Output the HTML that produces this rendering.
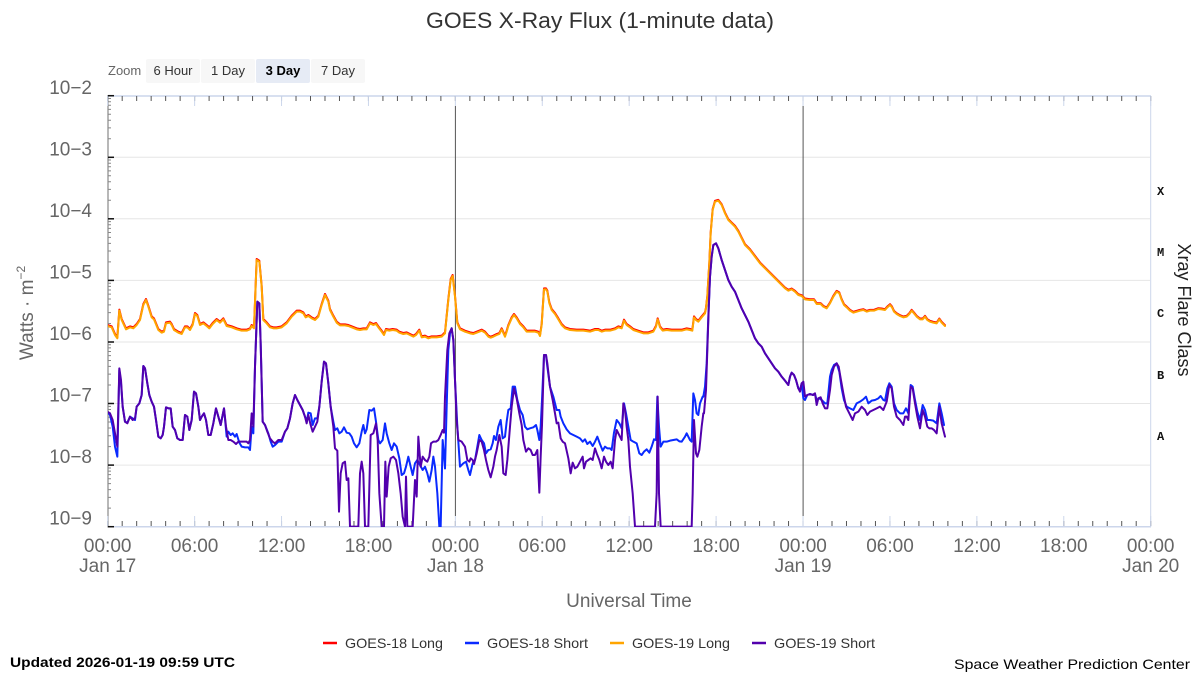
<!DOCTYPE html>
<html>
<head>
<meta charset="utf-8">
<style>
  html, body { margin: 0; padding: 0; background: #fff; }
  svg { display: block; }
  text { font-family: "Liberation Sans", Arial, sans-serif; }
</style>
</head>
<body>
<svg width="1200" height="675" viewBox="0 0 1200 675" xmlns="http://www.w3.org/2000/svg">
  <defs>
    <pattern id="hrTop" x="107.2" y="96" width="14.486" height="5" patternUnits="userSpaceOnUse">
      <rect x="0" y="0" width="1" height="5" fill="#555"/>
    </pattern>
    <pattern id="majTop" x="107.2" y="96" width="86.916" height="10" patternUnits="userSpaceOnUse">
      <rect x="0" y="0" width="1" height="10" fill="#ccd6eb"/>
    </pattern>
    <pattern id="hrBot" x="107.2" y="521" width="14.486" height="5" patternUnits="userSpaceOnUse">
      <rect x="0" y="0" width="1" height="5" fill="#555"/>
    </pattern>
    <pattern id="majBot" x="107.2" y="516" width="86.916" height="10" patternUnits="userSpaceOnUse">
      <rect x="0" y="0" width="1" height="10" fill="#ccd6eb"/>
    </pattern>
    <path id="dec" d="M108,-18.53h3M108,-29.38h3M108,-37.07h3M108,-43.04h3M108,-47.91h3M108,-52.03h3M108,-55.60h3M108,-58.75h3" stroke="#888" stroke-width="1" fill="none"/>
    <clipPath id="plotClip"><rect x="108" y="96" width="1043" height="431"/></clipPath>

    <polyline id="o4" transform="translate(100,240) scale(0.333333)" vector-effect="non-scaling-stroke" points="22,258 35,262 45,285 52,295 58,212 65,240 78,268 90,262 100,265 110,255 120,240 130,195 138,180 145,200 155,232 162,238 175,270 185,278 192,275 198,250 210,248 215,255 222,270 235,278 245,282 255,262 262,262 270,270 278,255 285,222 292,228 300,255 310,250 320,258 328,265 338,252 350,240 360,248 370,238 380,258 395,262 410,268 425,272 440,272 450,268 455,258 462,265 470,60 478,65 485,140 490,240 500,250 510,262 520,265 530,265 545,262 560,250 575,230 590,215 600,215 610,220 617,232 625,228 635,235 645,240 655,230 665,195 675,165 685,185 690,210 700,230 710,248 720,256 735,256 745,258 755,262 770,268 780,270 790,268 800,268 810,250 820,255 828,252 835,262 845,275 852,285 858,270 868,272 878,270 890,272 898,278 910,282 920,280 930,285 940,290 948,285 958,272 965,292 975,290 985,295 995,292 1010,292 1025,290 1035,280"/>
    <polyline id="o5" transform="translate(440,240) scale(0.333333)" vector-effect="non-scaling-stroke" points="15,280 25,180 32,120 38,108 45,170 52,250 60,268 75,275 90,280 100,282 110,278 125,272 135,278 145,290 152,293 160,290 170,285 178,282 185,268 195,290 200,275 205,258 215,235 222,225 230,235 240,252 250,262 260,275 270,275 285,275 295,278 300,288 305,255 312,148 318,148 322,155 328,190 335,210 345,222 355,238 365,255 375,265 390,270 410,272 430,272 450,275 465,270 475,270 485,275 495,272 510,272 525,268 535,262 545,265 552,242 560,255 570,262 580,270 595,275 610,280 625,280 640,275 648,260 653,238 660,262 668,272 680,270 695,272 710,272 725,272 740,268 750,270 757,272 762,232 768,240 775,245 785,232 795,220"/>
    <polyline id="o6" transform="translate(690,190) scale(0.333333)" vector-effect="non-scaling-stroke" points="45,370 48,355 52,320 58,220 62,130 68,60 75,35 85,32 95,45 105,70 115,90 125,100 135,110 145,125 155,145 165,165 180,180 195,200 210,220 225,235 240,250 255,265 270,280 285,295 295,302 305,298 315,305 325,315 335,318 345,328 360,330 372,330 380,342 392,342 400,350 410,355 420,340 430,320 440,305 448,310 455,330 462,345 470,352 480,362 490,368 500,365 510,362 520,360 530,365 540,362 552,362 565,357 575,358 585,360 592,352 600,345 606,352 612,365 620,372 630,378 640,382 650,380 658,372 665,362 672,370 680,380 690,388 698,388 705,380 712,390 720,395 730,398 740,400 748,388 755,398 765,408"/>
  </defs>

  <text x="600" y="28" text-anchor="middle" font-size="22" fill="#333" textLength="348" lengthAdjust="spacingAndGlyphs">GOES X-Ray Flux (1-minute data)</text>

  <text x="108" y="75" font-size="13" fill="#666">Zoom</text>
  <rect x="146" y="59" width="54" height="24" rx="2" fill="#f7f7f7"/>
  <rect x="201" y="59" width="54" height="24" rx="2" fill="#f7f7f7"/>
  <rect x="256" y="59" width="54" height="24" rx="2" fill="#e6ebf5"/>
  <rect x="311" y="59" width="54" height="24" rx="2" fill="#f7f7f7"/>
  <text x="173" y="75" text-anchor="middle" font-size="13" fill="#333">6 Hour</text>
  <text x="228" y="75" text-anchor="middle" font-size="13" fill="#333">1 Day</text>
  <text x="283" y="75" text-anchor="middle" font-size="13" fill="#000" font-weight="bold">3 Day</text>
  <text x="338" y="75" text-anchor="middle" font-size="13" fill="#333">7 Day</text>

  <g stroke="#e6e6e6" stroke-width="1">
    <line x1="108" y1="157.3" x2="1150" y2="157.3"/>
    <line x1="108" y1="218.8" x2="1150" y2="218.8"/>
    <line x1="108" y1="280.4" x2="1150" y2="280.4"/>
    <line x1="108" y1="342.0" x2="1150" y2="342.0"/>
    <line x1="108" y1="403.5" x2="1150" y2="403.5"/>
    <line x1="108" y1="465.1" x2="1150" y2="465.1"/>
  </g>

  <line x1="108" y1="96" x2="1151" y2="96" stroke="#ccd6eb" stroke-width="1.5"/>
  <line x1="108" y1="526.7" x2="1151" y2="526.7" stroke="#ccd6eb" stroke-width="1.5"/>
  <line x1="1150.7" y1="96" x2="1150.7" y2="527" stroke="#ccd6eb" stroke-width="1"/>
  <line x1="108" y1="95" x2="108" y2="527.5" stroke="#888" stroke-width="1.2"/>

  <rect x="107" y="96" width="1045" height="5" fill="url(#hrTop)"/>
  <rect x="107" y="96" width="1045" height="10" fill="url(#majTop)"/>
  <rect x="107" y="521" width="1045" height="5" fill="url(#hrBot)"/>
  <rect x="107" y="516" width="1045" height="10" fill="url(#majBot)"/>

  <use href="#dec" y="526.7"/>
  <use href="#dec" y="465.1"/>
  <use href="#dec" y="403.5"/>
  <use href="#dec" y="342.0"/>
  <use href="#dec" y="280.4"/>
  <use href="#dec" y="218.8"/>
  <use href="#dec" y="157.3"/>
  <g stroke="#111" stroke-width="1.5">
    <line x1="108" y1="95.7" x2="114" y2="95.7"/>
    <line x1="108" y1="157.3" x2="114" y2="157.3"/>
    <line x1="108" y1="218.8" x2="114" y2="218.8"/>
    <line x1="108" y1="280.4" x2="114" y2="280.4"/>
    <line x1="108" y1="342.0" x2="114" y2="342.0"/>
    <line x1="108" y1="403.5" x2="114" y2="403.5"/>
    <line x1="108" y1="465.1" x2="114" y2="465.1"/>
    <line x1="108" y1="526.7" x2="114" y2="526.7"/>
  </g>

  <g font-size="19" fill="#666" text-anchor="end">
    <text x="92" y="94">10−2</text>
    <text x="92" y="155.3">10−3</text>
    <text x="92" y="216.8">10−4</text>
    <text x="92" y="278.4">10−5</text>
    <text x="92" y="340">10−6</text>
    <text x="92" y="401.5">10−7</text>
    <text x="92" y="463.1">10−8</text>
    <text x="92" y="524.7">10−9</text>
  </g>
  <text transform="translate(33,313) rotate(-90)" text-anchor="middle" font-size="19" fill="#666">Watts · m<tspan font-size="12" dy="-8">−2</tspan></text>

  <g font-size="19" fill="#666" text-anchor="middle">
    <text x="107.7" y="552">00:00</text>
    <text x="194.6" y="552">06:00</text>
    <text x="281.6" y="552">12:00</text>
    <text x="368.5" y="552">18:00</text>
    <text x="455.4" y="552">00:00</text>
    <text x="542.3" y="552">06:00</text>
    <text x="629.2" y="552">12:00</text>
    <text x="716.1" y="552">18:00</text>
    <text x="803.1" y="552">00:00</text>
    <text x="890.0" y="552">06:00</text>
    <text x="976.9" y="552">12:00</text>
    <text x="1063.8" y="552">18:00</text>
    <text x="1150.7" y="552">00:00</text>
    <text x="107.7" y="572">Jan 17</text>
    <text x="455.4" y="572">Jan 18</text>
    <text x="803.1" y="572">Jan 19</text>
    <text x="1150.7" y="572">Jan 20</text>
  </g>
  <text x="629" y="607" text-anchor="middle" font-size="19" fill="#666">Universal Time</text>

  <g font-size="12" font-weight="bold" fill="#111">
    <text x="1157" y="195" style="font-family:'Liberation Mono',monospace">X</text>
    <text x="1157" y="256" style="font-family:'Liberation Mono',monospace">M</text>
    <text x="1157" y="317" style="font-family:'Liberation Mono',monospace">C</text>
    <text x="1157" y="379" style="font-family:'Liberation Mono',monospace">B</text>
    <text x="1157" y="440" style="font-family:'Liberation Mono',monospace">A</text>
  </g>
  <text transform="translate(1178,310) rotate(90)" text-anchor="middle" font-size="18" fill="#222">Xray Flare Class</text>

  <line x1="455.4" y1="106" x2="455.4" y2="516" stroke="#555" stroke-width="1"/>
  <line x1="803.1" y1="106" x2="803.1" y2="516" stroke="#555" stroke-width="1"/>

  <g clip-path="url(#plotClip)" fill="none" stroke-width="2" stroke-linejoin="round" stroke-linecap="round">
    <g stroke="#ff0000">
      <use href="#o4" y="-1"/>
      <use href="#o5" y="-1"/>
      <use href="#o6" y="-0.8"/>
    </g>
    <g stroke="#0a2aff">
      <polyline transform="translate(100,240) scale(0.333333)" vector-effect="non-scaling-stroke" points="22,515 30,525 38,560 45,620 52,650 58,390 63,430 68,500 75,545 82,548 90,530 98,535 105,540 110,500 118,490 125,465 130,378 135,385 142,430 148,465 155,485 162,500 168,540 175,590 182,595 188,585 192,560 198,502 205,505 212,505 218,560 225,570 232,595 240,600 248,600 255,525 262,530 268,570 275,540 282,455 288,460 295,500 300,540 305,530 312,520 318,540 325,585 332,585 340,550 348,505 355,530 362,555 368,525 372,505 380,590 385,575 392,585 398,580 405,590 410,582 418,608 425,620 435,622 445,622 450,630 455,560 460,580 465,380 472,185 478,190 482,310 488,545 495,555 505,580 512,605 518,620 525,615 535,605 545,605 555,575 562,565 570,535 578,490 585,465 592,480 600,495 608,510 615,530 620,545 625,518 632,520 638,555 645,535 652,535 658,500 665,425 672,365 678,370 685,430 692,500 700,545 705,570 712,565 718,580 725,575 732,562 740,578 748,580 755,590 762,610 770,622 778,610 785,575 790,555 795,580 800,568 808,510 815,512 822,505 828,545 835,600 840,610 848,600 855,550 860,580 868,610 875,630 882,610 890,620 898,655 905,705 912,700 918,680 925,650 932,680 938,705 945,670 952,660 960,675 968,690 975,680 982,700 988,725 995,690 1000,650 1005,680 1012,760 1018,860 1022,860 1028,600 1035,685"/>
      <polyline transform="translate(440,240) scale(0.333333)" vector-effect="non-scaling-stroke" points="15,685 20,500 25,330 30,280 35,265 40,300 45,420 52,560 60,680 70,670 78,665 85,690 90,705 98,670 105,660 112,620 118,585 125,600 132,610 138,640 145,630 152,628 158,610 162,588 168,600 175,560 182,540 188,595 195,590 200,545 205,510 212,505 218,440 225,440 232,480 240,510 248,525 255,560 262,568 270,565 280,562 288,555 292,570 298,600 302,560 306,480 312,345 318,345 322,380 330,440 340,470 350,510 358,510 362,530 370,550 380,568 390,580 400,585 410,590 420,595 428,605 435,598 442,612 450,605 458,618 465,605 472,590 480,612 488,632 495,620 502,625 510,625 515,630 522,578 530,540 538,550 545,565 552,490 558,520 565,560 572,600 580,605 590,610 598,640 605,645 612,635 620,628 628,638 635,620 642,598 648,600 652,470 657,560 662,620 670,605 680,605 690,602 700,600 710,598 718,604 725,605 735,590 740,580 745,590 750,600 755,605 760,460 765,480 770,520 775,525 780,490 788,470 790,470"/>
      <polyline transform="translate(690,190) scale(0.333333)" vector-effect="non-scaling-stroke" points="40,620 45,590 50,520 55,380 60,260 65,200 70,165 78,160 85,175 95,210 105,240 115,270 125,290 135,305 145,330 155,355 165,375 175,395 185,420 195,445 205,460 215,470 225,490 235,505 245,520 255,535 265,545 275,560 285,572 295,585 300,560 305,548 312,555 318,570 325,595 330,600 335,580 340,625 345,630 352,615 360,612 370,615 375,612 380,630 388,625 395,630 405,640 412,640 420,560 425,540 432,525 440,520 448,545 455,595 462,630 470,650 480,655 490,660 500,640 510,635 520,628 528,620 535,640 545,632 555,630 565,625 572,618 580,630 585,632 592,595 598,580 605,590 612,640 620,660 630,670 640,670 648,655 655,670 662,585 668,590 675,630 682,665 690,690 698,645 705,660 712,690 720,690 730,692 740,700 748,640 755,670 762,705"/>
    </g>
    <g stroke="#ffa500">
      <use href="#o4"/>
      <use href="#o5"/>
      <use href="#o6"/>
    </g>
    <g stroke="#5200ad">
      <polyline transform="translate(100,240) scale(0.333333)" vector-effect="non-scaling-stroke" points="22,515 30,520 38,540 45,580 52,620 58,385 63,420 68,500 75,545 82,550 90,530 98,540 105,535 110,500 118,490 125,465 130,378 135,385 142,430 148,465 155,485 162,500 168,540 175,590 182,595 188,585 192,560 198,502 205,505 212,505 218,560 225,570 232,595 240,600 248,600 255,525 262,530 268,570 275,540 282,455 288,460 295,500 300,540 305,530 312,520 318,540 325,585 332,585 340,550 348,505 355,530 362,555 368,525 372,505 378,560 385,600 392,600 400,605 408,612 415,605 425,605 435,605 440,605 445,610 450,600 455,520 460,560 465,380 472,185 478,190 482,310 488,545 495,555 502,575 510,595 518,605 525,610 535,600 545,600 555,575 562,565 570,535 578,490 585,465 592,480 600,495 608,510 615,530 620,550 625,525 632,555 638,575 645,560 652,545 658,500 665,425 672,365 678,370 685,430 692,500 700,560 705,625 712,632 717,815 722,700 728,670 735,665 740,720 745,715 750,860 775,860 780,700 785,665 790,700 795,860 805,860 812,585 820,580 828,550 833,600 838,760 845,860 852,860 856,665 860,770 866,680 872,655 880,650 888,660 895,700 902,760 908,830 915,860 918,710 922,860 938,860 945,720 950,770 955,590 962,680 968,650 975,660 982,665 988,650 993,610 1000,605 1008,605 1015,600 1022,585 1028,570 1032,578 1035,470"/>
      <polyline transform="translate(440,240) scale(0.333333)" vector-effect="non-scaling-stroke" points="15,470 22,330 28,280 35,265 40,300 45,420 50,540 55,600 65,605 75,620 82,660 88,665 92,655 98,660 102,672 110,640 118,600 125,605 132,630 138,660 145,690 152,712 160,680 165,650 170,630 178,585 185,620 190,700 197,705 202,660 210,560 215,500 222,445 230,475 238,520 245,555 250,600 258,635 265,625 272,630 278,645 285,645 292,630 298,758 302,650 306,555 312,345 318,345 322,370 330,440 338,480 345,520 350,550 355,548 362,595 368,605 375,610 385,655 392,700 398,668 405,685 412,680 420,665 428,650 432,685 438,665 445,660 452,655 458,660 465,625 470,640 478,660 485,685 492,650 498,665 505,675 512,665 518,685 525,600 530,570 535,580 540,590 545,600 550,490 555,510 560,560 565,600 570,680 578,760 585,860 645,860 650,760 653,470 657,760 662,860 755,860 758,760 762,540 768,640 772,650 778,630 785,560 790,520"/>
      <polyline transform="translate(690,190) scale(0.333333)" vector-effect="non-scaling-stroke" points="40,670 42,670 48,600 52,480 56,360 60,260 65,200 70,165 78,160 85,175 95,210 105,240 115,270 125,290 135,305 145,330 155,355 165,375 175,395 185,420 195,445 205,460 215,470 225,490 235,505 245,520 255,535 265,545 275,560 285,572 295,585 300,560 305,548 312,555 318,570 325,595 330,605 335,580 340,575 345,620 352,615 360,612 368,615 375,610 380,645 385,625 392,622 398,640 405,655 412,655 420,600 425,555 432,530 440,520 446,530 452,565 460,610 468,650 478,670 488,690 495,670 505,665 515,650 525,660 532,675 540,665 550,660 560,655 570,650 580,660 590,635 598,585 605,595 612,650 620,680 630,690 640,705 645,680 650,680 655,690 662,590 668,595 675,640 682,680 690,715 698,660 705,680 712,710 718,715 725,715 732,720 740,730 748,650 755,700 765,740"/>
    </g>
  </g>

  <g stroke-width="2.5">
    <line x1="323" y1="643" x2="337" y2="643" stroke="#ff0000"/>
    <line x1="465" y1="643" x2="479" y2="643" stroke="#0a2aff"/>
    <line x1="610" y1="643" x2="624" y2="643" stroke="#ffa500"/>
    <line x1="752" y1="643" x2="766" y2="643" stroke="#5200ad"/>
  </g>
  <g font-size="14" fill="#333">
    <text x="345" y="648" textLength="98" lengthAdjust="spacingAndGlyphs">GOES-18 Long</text>
    <text x="487" y="648" textLength="101" lengthAdjust="spacingAndGlyphs">GOES-18 Short</text>
    <text x="632" y="648" textLength="98" lengthAdjust="spacingAndGlyphs">GOES-19 Long</text>
    <text x="774" y="648" textLength="101" lengthAdjust="spacingAndGlyphs">GOES-19 Short</text>
  </g>

  <text x="10" y="667" font-size="14" font-weight="bold" fill="#000" textLength="225" lengthAdjust="spacingAndGlyphs">Updated 2026-01-19 09:59 UTC</text>
  <text x="1190" y="669" font-size="14" fill="#000" text-anchor="end" textLength="236" lengthAdjust="spacingAndGlyphs">Space Weather Prediction Center</text>
</svg>
</body>
</html>
